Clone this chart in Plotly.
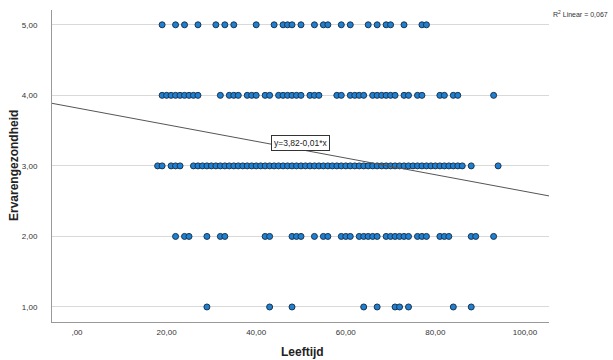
import plotly.graph_objects as go

# Ages (Leeftijd) per level of Ervarengezondheid
ages_5 = [19, 22, 24, 27, 31, 33, 35, 40, 44, 46, 47, 48, 50, 53, 55, 56, 59, 61, 65, 67, 69, 70, 73, 77, 78]
ages_4 = [19, 20, 21, 22, 23, 24, 25, 26, 27, 32, 34, 35, 36, 38, 39, 40, 42, 43,
          45, 46, 47, 48, 49, 50, 52, 53, 54, 58, 59, 61, 62, 63, 64,
          66, 67, 68, 69, 70, 71, 73, 74, 76, 77, 81, 82, 84, 85, 93]
ages_3 = [18, 19, 21, 22, 23] + list(range(26, 87)) + [88, 94]
ages_2 = [22, 24, 25, 29, 32, 33, 42, 43, 48, 49, 50, 53, 55, 56, 59, 60, 61,
          63, 64, 65, 66, 67, 69, 70, 71, 72, 73, 74, 76, 77, 78, 81, 82, 83, 88, 89, 93]
ages_1 = [29, 43, 48, 64, 67, 71, 72, 74, 84, 88]
levels = [5, 4, 3, 2, 1]

# Linear fit
fit_intercept = 3.821
fit_slope = -0.01183
fit_x = [-5.58, 105.36]
r2_text = "R<sup>2</sup> Linear = 0,067"
eq_text = "y=3,82-0,01*x"
x_title = "<b>Leeftijd</b>"
y_title = "<b>Ervarengezondheid</b>"

x_tickvals = [0, 20, 40, 60, 80, 100]
x_ticktext = [",00", "20,00", "40,00", "60,00", "80,00", "100,00"]
y_tickvals = [1, 2, 3, 4, 5]
y_ticktext = ["1,00", "2,00", "3,00", "4,00", "5,00"]

xs, ys = [], []
for lvl, arr in zip(levels, [ages_5, ages_4, ages_3, ages_2, ages_1]):
    xs += arr
    ys += [lvl] * len(arr)

W, H = 613, 360
L, R, T, B = 52, 64, 10, 38
PW, PH = W - L - R, H - T - B

fig = go.Figure()
fig.add_trace(go.Scatter(
    x=xs, y=ys, mode="markers",
    marker=dict(size=6, color="#1f7fd0", line=dict(color="#1a3550", width=1)),
    showlegend=False, hoverinfo="skip"))
fig.add_trace(go.Scatter(
    x=fit_x, y=[fit_intercept + fit_slope * v for v in fit_x], mode="lines",
    line=dict(color="#555555", width=1), showlegend=False, hoverinfo="skip"))

fig.add_annotation(x=50.0, y=3.33, xref="x", yref="y", text=eq_text, showarrow=False,
                   font=dict(size=8.5, color="#222222", family="Arial, Liberation Sans"),
                   bgcolor="white", bordercolor="#333333", borderwidth=1, borderpad=2)
fig.add_annotation(x=(610 - L) / PW, y=1 - (14 - T) / PH, xref="paper", yref="paper",
                   text=r2_text, showarrow=False,
                   font=dict(size=7, color="#333333", family="Arial, Liberation Sans"),
                   xanchor="right", yanchor="middle")
fig.add_annotation(x=(14 - L) / PW, y=1 - (166 - T) / PH, xref="paper", yref="paper",
                   text=y_title, showarrow=False, textangle=-90,
                   font=dict(size=12, color="#222222", family="Arial, Liberation Sans"),
                   xanchor="center", yanchor="middle")
fig.add_annotation(x=(302 - L) / PW, y=1 - (352 - T) / PH, xref="paper", yref="paper",
                   text=x_title, showarrow=False,
                   font=dict(size=12, color="#222222", family="Arial, Liberation Sans"),
                   xanchor="center", yanchor="middle")

fig.update_layout(
    width=W, height=H,
    margin=dict(l=L, r=R, t=T, b=B),
    paper_bgcolor="white", plot_bgcolor="white",
    font=dict(family="Arial, Liberation Sans", color="#333333", size=8),
    xaxis=dict(range=[-5.58, 105.36], tickvals=x_tickvals, ticktext=x_ticktext,
               showgrid=False, zeroline=False, showline=True, linecolor="#999999",
               linewidth=1, ticks="", ticklabelstandoff=2, automargin=False),
    yaxis=dict(range=[0.787, 5.21], tickvals=y_tickvals, ticktext=y_ticktext,
               showgrid=True, gridcolor="#d9d9d9", gridwidth=1, zeroline=False,
               showline=True, linecolor="#999999", linewidth=1, ticks="", ticklabelstandoff=12,
               automargin=False),
)
fig.write_html("out.html")
